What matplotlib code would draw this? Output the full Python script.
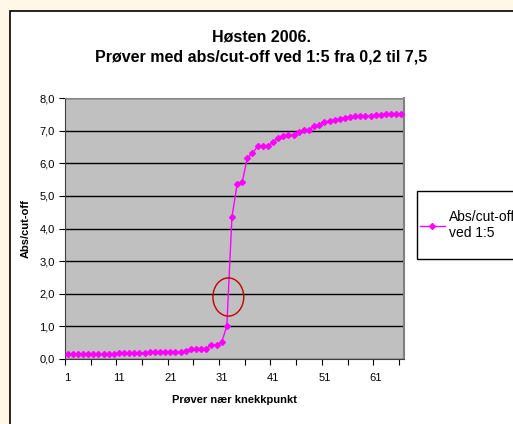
import matplotlib
matplotlib.use('Agg')
import matplotlib.pyplot as plt
from matplotlib.patches import Ellipse, Rectangle
from matplotlib.ticker import FuncFormatter
import numpy as np

plt.rcParams['font.family'] = ['Liberation Sans', 'DejaVu Sans']

# abs/cut-off ved 1:5, prøver sortert
abs_cutoff = [0.14, 0.14, 0.14, 0.14, 0.14, 0.14, 0.14, 0.14, 0.14, 0.15,
              0.18, 0.18, 0.18, 0.18, 0.18, 0.18, 0.20, 0.20, 0.20, 0.20,
              0.20, 0.20, 0.20, 0.23, 0.30, 0.32, 0.32, 0.32, 0.44, 0.44,
              0.52, 1.00, 4.35, 5.35, 5.42, 6.17, 6.30, 6.52, 6.52, 6.52,
              6.65, 6.78, 6.85, 6.87, 6.88, 6.97, 7.03, 7.03, 7.14, 7.17,
              7.25, 7.30, 7.32, 7.35, 7.40, 7.42, 7.44, 7.44, 7.46, 7.46,
              7.47, 7.48, 7.50, 7.52, 7.52, 7.52]
prove_nr = np.arange(1, len(abs_cutoff) + 1)
x_labels = [1, 11, 21, 31, 41, 51, 61]

W, H = 513, 424
fig = plt.figure(figsize=(W / 100, H / 100), dpi=100)
fig.patch.set_facecolor('#FFF8E6')
# hvit diagramflate med svart ramme
fig.patches.append(Rectangle((10 / W, -0.1), 1.2, 1 - 11 / H + 0.1,
                             transform=fig.transFigure, facecolor='white',
                             edgecolor='black', linewidth=1.2, zorder=-10))

ax = fig.add_axes([65 / W, 1 - 359 / H, (404 - 65) / W, (359 - 98) / H])
ax.set_facecolor('#C0C0C0')

ax.plot(prove_nr, abs_cutoff, color='#FF00FF', linewidth=1.0, marker='D',
        markersize=3, label='Abs/cut-off\nved 1:5', zorder=3)

ax.set_xlim(0.5, len(abs_cutoff) + 0.5)
ax.set_ylim(0, 8)
ax.set_yticks(np.arange(0, 9, 1))
ax.yaxis.set_major_formatter(FuncFormatter(lambda v, p: ('%.1f' % v).replace('.', ',')))
ax.yaxis.grid(True, color='black', linewidth=1.0)
ax.set_axisbelow(True)

ax.set_xticks(np.arange(0.5, len(abs_cutoff) + 1, 5))
ax.set_xticklabels([])
ax.set_xticks(x_labels, minor=True)
ax.set_xticklabels([str(v) for v in x_labels], minor=True)
ax.tick_params(axis='x', which='minor', length=0, pad=10, labelsize=8)
ax.tick_params(axis='x', which='major', length=4, direction='out')
ax.tick_params(axis='y', length=4, direction='out', labelsize=8)

for s in ['left', 'bottom']:
    ax.spines[s].set_color('#404040')
ax.spines['top'].set_color('#A0A0A0')
ax.spines['top'].set_linewidth(0.6)
ax.spines['right'].set_color('#808080')
ax.spines['right'].set_linewidth(1.5)

ax.set_xlabel('Prøver nær knekkpunkt', fontsize=8, fontweight='bold', labelpad=9)
ax.set_ylabel('Abs/cut-off', fontsize=8, fontweight='bold', labelpad=6)

fig.text(261 / W, 1 - 47 / H, 'Høsten 2006.\nPrøver med abs/cut-off ved 1:5 fra 0,2 til 7,5',
         ha='center', va='center', fontsize=11.5, fontweight='bold', linespacing=1.45)

# markering rundt knekkpunktet
ax.add_patch(Ellipse((32.3, 1.9), 6.0, 1.17, fill=False, edgecolor='#C00000',
                     linewidth=1.0, zorder=4))

# forklaringsboks (rammen tegnes for seg)
fig.patches.append(Rectangle((417 / W, 1 - 259 / H), 0.3, 68 / H,
                             transform=fig.transFigure, facecolor='white',
                             edgecolor='black', linewidth=1.0, zorder=-5))
leg = fig.legend(loc='center left', bbox_to_anchor=(417 / W, 1 - 225 / H),
                 fontsize=10, frameon=False, borderpad=0.2,
                 borderaxespad=0, handlelength=1.8, handletextpad=0.3)

fig.savefig('out.png', dpi=100, facecolor=fig.get_facecolor())
